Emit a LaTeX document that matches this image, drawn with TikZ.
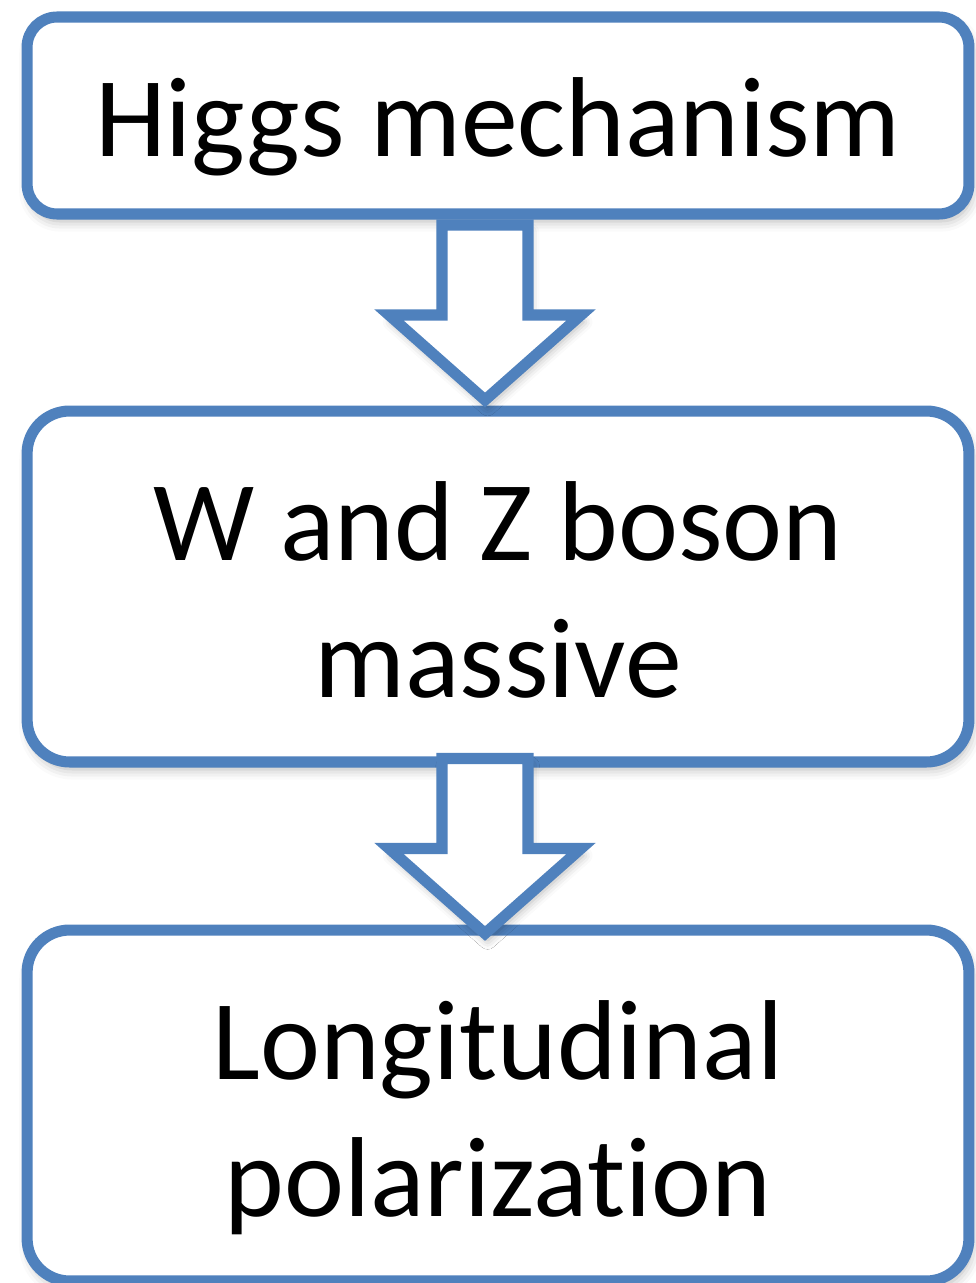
\documentclass[tikz,border=0pt]{standalone}
\usepackage{fontspec}
\setmainfont{Carlito}[Ligatures=NoCommon]
\usepackage{tikz}
\usetikzlibrary{calc,shadows.blur}
\definecolor{boxblue}{RGB}{79,129,189}

% block arrow between two stacked boxes
\newcommand{\blockarrow}[3]{%
    \path (#1.south) -- coordinate[pos=0.5, xshift=-0.26cm] (#3) (#2.north);
    \draw[bigarrow] ($(#3)+(-43,-87.5)$) -- ++(86,0) -- ++(0,90) -- ++(53,0)
        -- ($(#3)+(0,87.5)$) -- ($(#3)+(-96,2.5)$) -- ++(53,0) -- cycle;
}

\begin{document}
\begin{tikzpicture}[x=0.02cm, y=-0.02cm,
    box/.style={draw=boxblue, line width=6.3pt, fill=white, rounded corners=#1,
        minimum width=18.84cm, align=center, inner sep=0pt, outer sep=0pt,
        font=\fontsize{64.7}{78.5}\selectfont,
        blur shadow={shadow xshift=1.5pt, shadow yshift=-4pt, shadow blur radius=6pt, shadow opacity=30}},
    oneline/.style={text height=1.66cm, text depth=0cm},
    twoline/.style={text height=4.46cm, text depth=0cm},
    bigarrow/.style={draw=boxblue, line width=6.3pt, fill=white, line join=miter,
        blur shadow={shadow xshift=1.5pt, shadow yshift=-4pt, shadow blur radius=5pt, shadow opacity=30}}]
    \useasboundingbox (0,0) rectangle (975,1283);

    \node[box=0.6cm, oneline, minimum height=3.94cm] (higgs) at (498,115.5) {Higgs mechanism};
    \node[box=0.85cm, twoline, minimum height=7.02cm] (massive) at (498,586.5) {W and Z boson\\massive};
    \node[box=0.85cm, twoline, minimum height=7.02cm] (polar) at (498,1105.5) {Longitudinal\\polarization};

    \blockarrow{higgs}{massive}{a1}
    \blockarrow{massive}{polar}{a2}
\end{tikzpicture}
\end{document}
